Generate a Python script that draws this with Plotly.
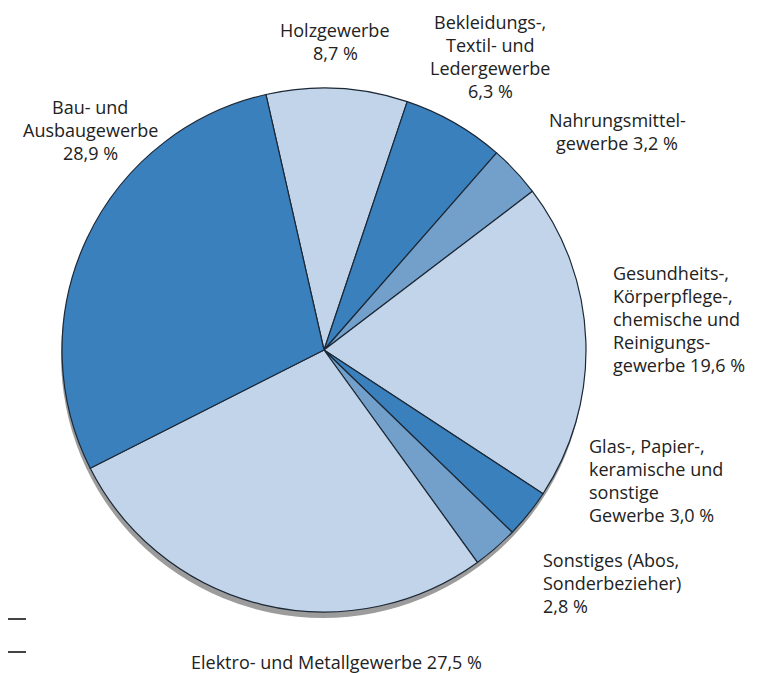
import plotly.graph_objects as go

# ---- data ----
categories = ["Holzgewerbe", "Bekleidungs-, Textil- und Ledergewerbe", "Nahrungsmittelgewerbe",
              "Gesundheits-, Körperpflege-, chemische und Reinigungsgewerbe",
              "Glas-, Papier-, keramische und sonstige Gewerbe", "Sonstiges (Abos, Sonderbezieher)",
              "Elektro- und Metallgewerbe", "Bau- und Ausbaugewerbe"]
values = [8.7, 6.3, 3.2, 19.6, 3.0, 2.8, 27.5, 28.9]
label_lines = [
    ["Holzgewerbe", "8,7 %"],
    ["Bekleidungs-,", "Textil- und", "Ledergewerbe", "6,3 %"],
    ["Nahrungsmittel-", "gewerbe 3,2 %"],
    ["Gesundheits-,", "Körperpflege-,", "chemische und", "Reinigungs-", "gewerbe 19,6 %"],
    ["Glas-, Papier-,", "keramische und", "sonstige", "Gewerbe 3,0 %"],
    ["Sonstiges (Abos,", "Sonderbezieher)", "2,8 %"],
    ["Elektro- und Metallgewerbe 27,5 %"],
    ["Bau- und", "Ausbaugewerbe", "28,9 %"],
]

# ---- styling / layout ----
W, H = 761, 673
OFF = 8  # page body margin compensation
CX, CY, R = 324 - OFF, 350 - OFF, 262
DARK, LIGHT, MED = "#3a80bd", "#c2d4e9", "#72a0cb"
colors = [LIGHT, DARK, MED, LIGHT, DARK, MED, LIGHT, DARK]
FONT = "Open Sans"
FS = 18
LH = 23
# (x, y of first line center, anchor) in reference pixels
label_pos = [
    (335, 30, "center"),
    (490, 22, "center"),
    (617, 120, "center"),
    (611, 273, "left"),
    (587, 446, "left"),
    (541, 560, "left"),
    (336, 662, "center"),
    (90, 107, "center"),
]

def px(x):
    return x / W

def py(y):
    return 1 - y / H

fig = go.Figure()
fig.add_trace(go.Pie(
    labels=categories, values=values, sort=False, direction="clockwise",
    rotation=-12.8, textinfo="none", hoverinfo="label+value",
    marker=dict(colors=colors, line=dict(color="#1c2836", width=1.2)),
    domain=dict(x=[px(CX - R), px(CX + R)], y=[py(CY + R), py(CY - R)]),
    showlegend=False,
))

shapes = [
    # drop shadow
    dict(type="circle", xref="paper", yref="paper", layer="below",
         x0=px(CX - R - 1), x1=px(CX + R - 1), y0=py(CY + R + 6), y1=py(CY - R + 6),
         fillcolor="#9c9c9c", line=dict(width=0)),
    dict(type="line", xref="paper", yref="paper", x0=px(-OFF), x1=px(26 - OFF),
         y0=py(619 - OFF), y1=py(619 - OFF), line=dict(color="#444", width=2)),
    dict(type="line", xref="paper", yref="paper", x0=px(-OFF), x1=px(26 - OFF),
         y0=py(652 - OFF), y1=py(652 - OFF), line=dict(color="#444", width=2)),
]

annotations = []
for lines, (x, y, anchor) in zip(label_lines, label_pos):
    for i, t in enumerate(lines):
        annotations.append(dict(
            text=t, xref="paper", yref="paper", x=px(x - OFF), y=py(y - OFF + i * LH),
            xanchor=anchor, yanchor="middle", showarrow=False,
            font=dict(family=FONT, size=FS, color="#222"),
        ))

fig.update_layout(
    width=W, height=H, margin=dict(l=0, r=0, t=0, b=0),
    paper_bgcolor="white", plot_bgcolor="white",
    shapes=shapes, annotations=annotations,
)

fig.write_html("out.html")
